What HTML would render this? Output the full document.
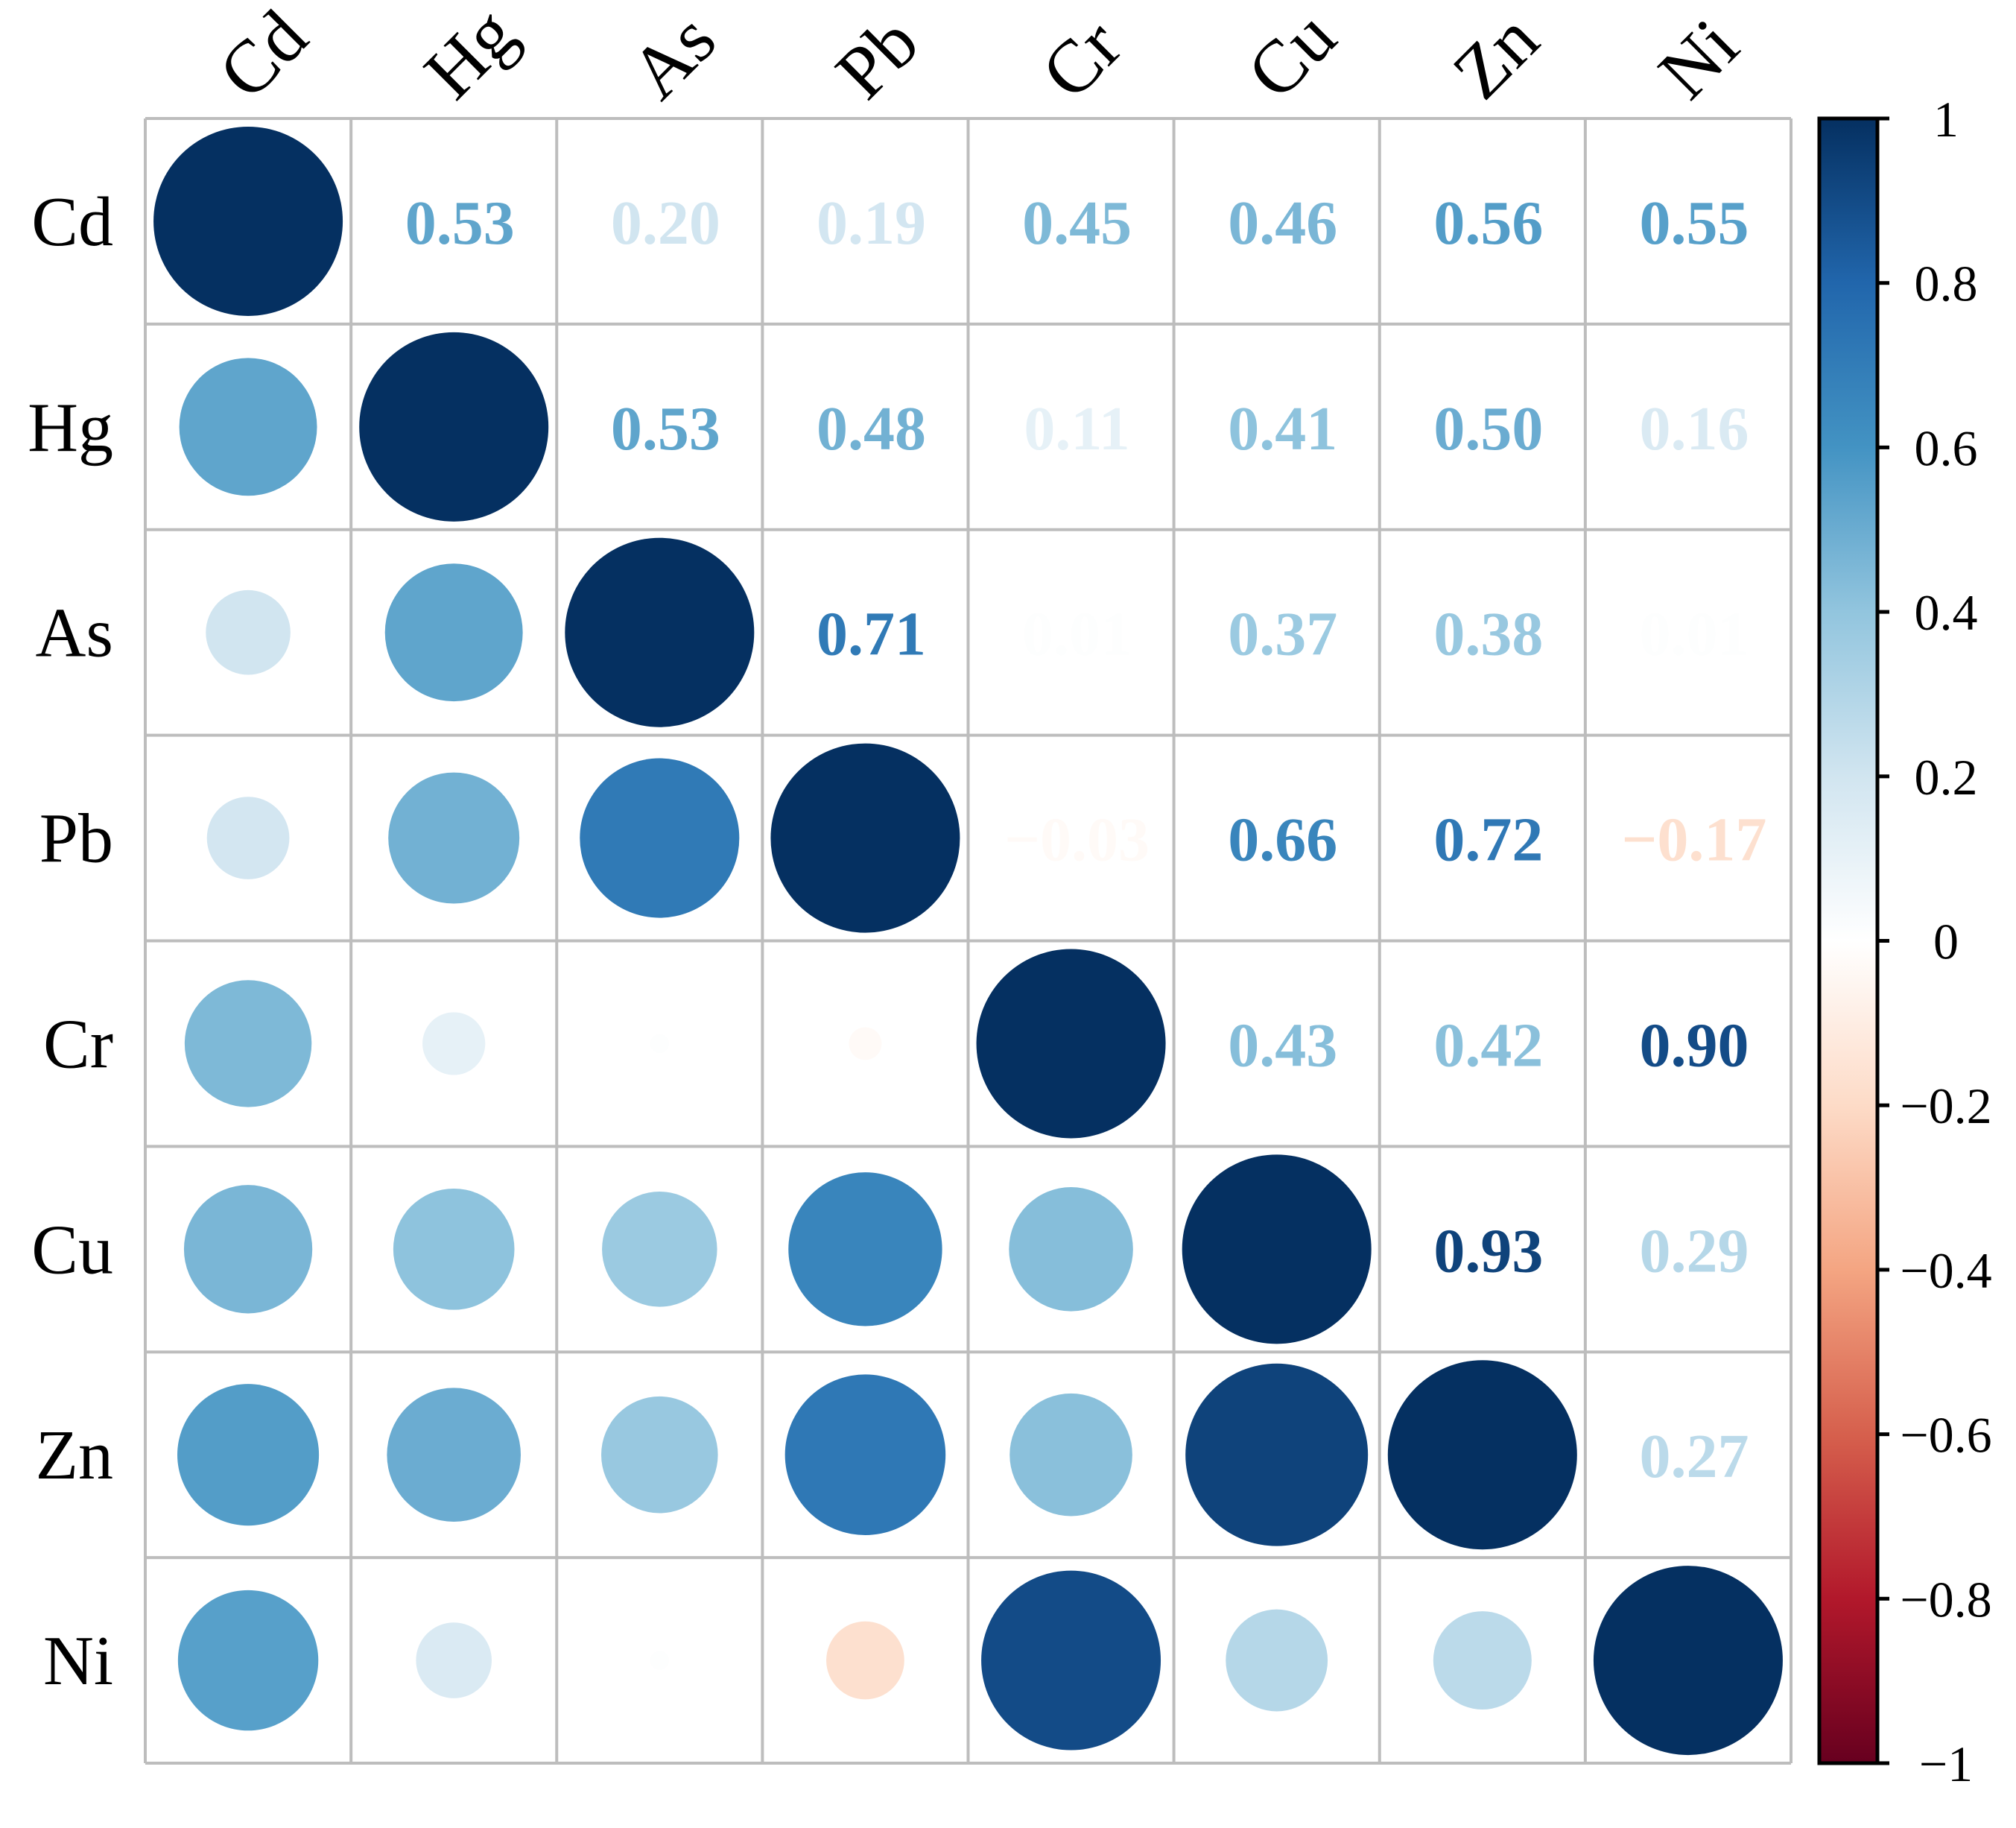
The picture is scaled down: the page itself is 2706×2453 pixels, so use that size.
<!DOCTYPE html>
<html><head><meta charset="utf-8"><style>
html,body{margin:0;padding:0;background:#fff;}
svg{display:block;font-family:"Liberation Serif",serif;}
</style></head><body>
<svg id="chart" width="2706" height="2453" viewBox="0 0 2706 2453" xmlns="http://www.w3.org/2000/svg">
<defs>
<linearGradient id="cbgrad" x1="0" y1="1" x2="0" y2="0">
<stop offset="0" stop-color="#67001f"/><stop offset="0.1" stop-color="#b2182b"/><stop offset="0.2" stop-color="#d6604d"/><stop offset="0.3" stop-color="#f4a582"/><stop offset="0.4" stop-color="#fddbc7"/><stop offset="0.5" stop-color="#ffffff"/><stop offset="0.6" stop-color="#d1e5f0"/><stop offset="0.7" stop-color="#92c5de"/><stop offset="0.8" stop-color="#4393c3"/><stop offset="0.9" stop-color="#2166ac"/><stop offset="1" stop-color="#053061"/>
</linearGradient>
</defs>
<g id="grid"></g>
<g id="marks"></g>
<g id="labels"></g>
<g id="colorbar"></g>
</svg>
<script>
const variables = ["Cd","Hg","As","Pb","Cr","Cu","Zn","Ni"];
const upperValues = [
  [1, 0.53, 0.20, 0.19, 0.45, 0.46, 0.56, 0.55],
  [null, 1, 0.53, 0.48, 0.11, 0.41, 0.50, 0.16],
  [null, null, 1, 0.71, 0.01, 0.37, 0.38, 0.01],
  [null, null, null, 1, -0.03, 0.66, 0.72, -0.17],
  [null, null, null, null, 1, 0.43, 0.42, 0.90],
  [null, null, null, null, null, 1, 0.93, 0.29],
  [null, null, null, null, null, null, 1, 0.27],
  [null, null, null, null, null, null, null, 1]
];
const colorbarTicks = [1, 0.8, 0.6, 0.4, 0.2, 0, -0.2, -0.4, -0.6, -0.8, -1];
const colorStops = ["#67001f","#b2182b","#d6604d","#f4a582","#fddbc7","#ffffff","#d1e5f0","#92c5de","#4393c3","#2166ac","#053061"];

const NS = "http://www.w3.org/2000/svg";
const L = 195, T = 159, R = 2404, B = 2366;
const n = variables.length, cw = (R - L) / n, ch = (B - T) / n;
const rMax = 127;
const xc = j => L + cw * (j + 0.5);
const yc = i => T + ch * (i + 0.5);
const cbTop = 159, cbBot = 2366, cbL = 2442, cbR = 2520;
const cbY = v => cbBot - (v + 1) / 2 * (cbBot - cbTop);

function hex(h){return [1,3,5].map(k=>parseInt(h.substr(k,2),16));}
function color(v){
  const t = (Math.max(-1,Math.min(1,v)) + 1) / 2 * 10;
  const k = Math.min(9, Math.floor(t)), f = t - k;
  const a = hex(colorStops[k]), b = hex(colorStops[k+1]);
  return "rgb(" + a.map((c,i)=>Math.round(c + (b[i]-c)*f)).join(",") + ")";
}
function el(tag, attrs, parent){
  const e = document.createElementNS(NS, tag);
  for (const k in attrs) e.setAttribute(k, attrs[k]);
  parent.appendChild(e);
  return e;
}
function val(i,j){return i<=j ? upperValues[i][j] : upperValues[j][i];}

const grid = document.getElementById("grid");
for (let k = 0; k <= n; k++) {
  const gv = el("line", {x1:L+cw*k, y1:T, x2:L+cw*k, y2:B, stroke:"#bdbdbd", "stroke-width":4}, grid);
  
  
  const gh = el("line", {x1:L, y1:T+ch*k, x2:R, y2:T+ch*k, stroke:"#bdbdbd", "stroke-width":4}, grid);
  
  
}

const marks = document.getElementById("marks");
for (let i = 0; i < n; i++) for (let j = 0; j < n; j++) {
  const v = val(i,j);
  if (i >= j) {
    const c = el("circle", {cx:xc(j), cy:yc(i), r:rMax*Math.sqrt(Math.abs(v)), fill:color(v)}, marks);
    
    
  } else {
    const t = el("text", {x:xc(j)+8, y:yc(i)+30, "text-anchor":"middle", "font-size":84, "font-weight":"bold", fill:color(v)}, marks);
    t.textContent = (v < 0 ? "\u2212" : "") + Math.abs(v).toFixed(2);
    
    
  }
}

const labels = document.getElementById("labels");
variables.forEach((name, k) => {
  const rl = el("text", {x:152, y:yc(k)+32, "text-anchor":"end", "font-size":94, fill:"#000"}, labels);
  rl.textContent = name;
  
  
  const x = xc(k) + 2, y = 138;
  const cl = el("text", {x:x, y:y, "font-size":100, fill:"#000", transform:"rotate(-45 " + x + " " + y + ")"}, labels);
  cl.textContent = name;
  
  
});

const cb = document.getElementById("colorbar");
const bar = el("rect", {x:cbL, y:cbTop, width:cbR-cbL, height:cbBot-cbTop, fill:"url(#cbgrad)", stroke:"#000", "stroke-width":5}, cb);


colorbarTicks.forEach(v => {
  const y = cbY(v);
  const tk = el("line", {x1:cbR, y1:y, x2:cbR+16, y2:y, stroke:"#000", "stroke-width":5}, cb);
  
  
  const tl = el("text", {x:2612, y:y+24, "text-anchor":"middle", "font-size":68, fill:"#000"}, cb);
  tl.textContent = (v < 0 ? "\u2212" : "") + Math.abs(v);
  
  
});
</script>
</body></html>
